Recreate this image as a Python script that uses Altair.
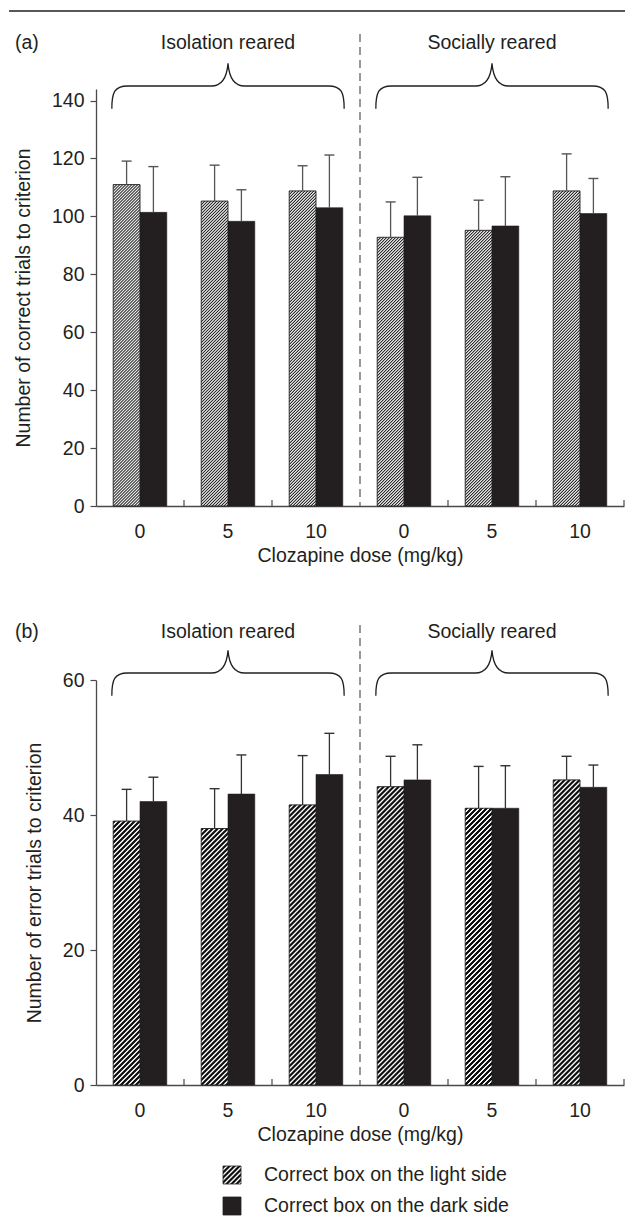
import altair as alt
import pandas as pd

# ---------------- data ----------------
groups = ["Isolation|0", "Isolation|5", "Isolation|10", "Social|0", "Social|5", "Social|10"]
series = ["light", "dark"]
legend_labels = ["Correct box on the light side", "Correct box on the dark side"]
rearing_groups = ["Isolation|5", "Social|5"]
rearing_titles = ["Isolation reared", "Socially reared"]

correct_light = [111.0, 105.3, 108.8, 92.8, 95.2, 108.8]
correct_light_sem = [8.1, 12.4, 8.7, 12.2, 10.4, 12.8]
correct_dark = [101.4, 98.3, 103.0, 100.2, 96.7, 101.0]
correct_dark_sem = [15.8, 10.9, 18.2, 13.3, 17.0, 12.1]

error_light = [39.1, 38.0, 41.5, 44.2, 41.0, 45.2]
error_light_sem = [4.7, 5.9, 7.3, 4.5, 6.2, 3.5]
error_dark = [42.0, 43.1, 46.0, 45.2, 41.0, 44.1]
error_dark_sem = [3.6, 5.8, 6.1, 5.2, 6.3, 3.3]

ticks_a = [0, 20, 40, 60, 80, 100, 120, 140]
ticks_b = [0, 20, 40, 60]

# ---------------- style ----------------
FONT = "Liberation Sans"
FS = 19.5
INK = "#231f20"
AX = "#4a4a4a"
DARK = "#231f20"
W = 528
BAND = W / len(groups)
PAD_OUT = 0.642
BAR_W = BAND / (2 + 2 * PAD_OUT)
BRACE_W = 2.64 * BAND

BRACE = ("M -1 0.195 C -1 0.06 -0.98 0 -0.864 0 L -0.144 0 "
         "C -0.05 0 -0.01 -0.07 0 -0.195 C 0.01 -0.07 0.05 0 0.144 0 "
         "L 0.864 0 C 0.98 0 1 0.06 1 0.195")


def hatch(w, h, period, duty, dark, light, ramp=1.0):
    """Diagonal '/' stripes as a linear gradient over a w x h box (soft 1px edges)."""
    h = max(h, 0.5)
    a = w / h
    s = (a + 1) / (a * a + 1)
    L = w + h
    stops = []
    c = 0.0
    while c < L:
        pts = [(c + ramp / 2, dark), (c + duty * period - ramp / 2, dark),
               (c + duty * period + ramp / 2, light), (c + period - ramp / 2, light)]
        for pc, col in pts:
            if pc <= L:
                stops.append({"offset": round(pc / L, 5), "color": col})
        c += period
    return {"gradient": "linear", "x1": 0, "y1": 0, "x2": a * s, "y2": s, "stops": stops}


def chunks(light, k, period, reps):
    """Split each hatched bar into short slices so the stripe gradient stays crisp."""
    hc = period * reps
    rows = []
    for g, v in zip(groups, light):
        hp = v * k
        i = 0
        while i * hc < hp - 0.01:
            top_px = i * hc
            bot_px = min((i + 1) * hc + 1, hp)
            rows.append({"group": g, "series": "light",
                         "ytop": v - top_px / k, "ybot": max(v - bot_px / k, 0.0),
                         "hkey": f"{bot_px - top_px:.2f}"})
            i += 1
    return pd.DataFrame(rows)


def panel(light, light_sem, dark, dark_sem, ymax, ticks, plot_h, ytitle, letter,
          hstyle, text_y, brace_y, dash_top, err_color, extra=()):
    df = pd.DataFrame({
        "group": groups * 2,
        "series": ["light"] * len(groups) + ["dark"] * len(groups),
        "mean": light + dark,
        "sem": light_sem + dark_sem,
    })
    df["upper"] = df["mean"] + df["sem"]
    k = plot_h / ymax

    period, duty, c_dark, c_light = hstyle
    cdf = chunks(light, k, period, max(1, round(30 / period)))
    conds = [{"test": f"datum.hkey === '{hk}'",
              "value": hatch(BAR_W, float(hk), period, duty, c_dark, c_light)}
             for hk in sorted(cdf["hkey"].unique())]
    chunk_fill = alt.FillValue(value=c_dark, condition=conds)

    xenc = alt.X("group:N",
                 scale=alt.Scale(domain=groups, paddingInner=0, paddingOuter=0),
                 axis=alt.Axis(title="Clozapine dose (mg/kg)",
                               labelExpr="split(datum.label, '|')[1]",
                               labelAngle=0, ticks=False, tickSize=0,
                               labelPadding=16, titlePadding=6))
    xoff = alt.XOffset("series:N",
                       scale=alt.Scale(domain=series, paddingInner=0, paddingOuter=PAD_OUT))
    yenc = alt.Y("mean:Q", scale=alt.Scale(domain=[0, ymax], nice=False, zero=True),
                 axis=alt.Axis(values=ticks, title=ytitle, grid=False, tickSize=6,
                               labelPadding=6, titlePadding=18))

    base = alt.Chart(df)
    dark_bars = base.transform_filter("datum.series === 'dark'").mark_bar(
        fill=DARK, stroke=DARK, strokeWidth=0.6).encode(x=xenc, xOffset=xoff, y=yenc)
    hatch_bars = alt.Chart(cdf).mark_bar(strokeWidth=0).encode(
        x=alt.X("group:N"), xOffset=alt.XOffset("series:N"),
        y=alt.Y("ytop:Q"), y2="ybot:Q", fill=chunk_fill)
    outline = base.transform_filter("datum.series === 'light'").mark_bar(
        filled=False, stroke=INK, strokeWidth=0.9).encode(
        x=alt.X("group:N"), xOffset=alt.XOffset("series:N"), y=alt.Y("mean:Q"))
    err = base.mark_rule(color=err_color, strokeWidth=1.3).encode(
        x=alt.X("group:N"), xOffset=alt.XOffset("series:N"),
        y=alt.Y("upper:Q"), y2="mean:Q")
    caps = base.mark_tick(color=err_color, size=10, thickness=1.4, opacity=1).encode(
        x=alt.X("group:N"), xOffset=alt.XOffset("series:N"), y=alt.Y("upper:Q"))

    inner_ticks = alt.Chart(pd.DataFrame({"group": [groups[1], groups[2], groups[4], groups[5]]})
                            ).mark_rule(color=AX, strokeWidth=1.2).encode(
        x=alt.X("group:N", bandPosition=0), y=alt.value(plot_h), y2=alt.value(plot_h - 6))
    end_tick = alt.Chart(pd.DataFrame({"group": [groups[-1]]})).mark_rule(
        color=AX, strokeWidth=1.2).encode(
        x=alt.X("group:N", bandPosition=1), y=alt.value(plot_h), y2=alt.value(plot_h - 6))

    dash = alt.Chart(pd.DataFrame({"group": [groups[3]]})).mark_rule(
        color="#555555", strokeWidth=1.2, strokeDash=[8, 5]).encode(
        x=alt.X("group:N", bandPosition=0), y=alt.value(dash_top), y2=alt.value(plot_h))

    rdf = pd.DataFrame({"group": rearing_groups, "title": rearing_titles})
    braces = alt.Chart(rdf).mark_point(shape=BRACE, size=BRACE_W * BRACE_W, filled=False,
                                        stroke=INK, strokeWidth=1.3, opacity=1).encode(
        x=alt.X("group:N"), y=alt.value(brace_y))
    titles = alt.Chart(rdf).mark_text(fontSize=FS, font=FONT, color=INK,
                                      baseline="middle").encode(
        x=alt.X("group:N"), y=alt.value(text_y), text="title:N")
    letter_t = alt.Chart(pd.DataFrame({"letter": [letter]})).mark_text(
        fontSize=FS, font=FONT, color=INK, align="left", baseline="middle").encode(
        x=alt.value(-81), y=alt.value(text_y), text="letter:N")

    layers = [dark_bars, hatch_bars, outline, err, caps, inner_ticks, end_tick, dash,
              braces, titles, letter_t] + list(extra)
    return alt.layer(*layers).properties(width=W, height=plot_h)


PLOT_A = 417
PLOT_B = 405

top_rule = alt.Chart(pd.DataFrame({"r": [1]})).mark_rule(color=INK, strokeWidth=1.5).encode(
    x=alt.value(-87), x2=alt.value(W + 1), y=alt.value(-78))

hatch_b = (5, 0.62, "#111111", "#ffffff")
leg_df = pd.DataFrame({"label": legend_labels, "series": series})
leg_y = [495, 526]
leg_layers = []
for i, (s_name, fillv) in enumerate([("light", hatch(18, 18, *hatch_b)), ("dark", DARK)]):
    sub = alt.Chart(leg_df).transform_filter(f"datum.series === '{s_name}'")
    leg_layers.append(sub.mark_square(size=324, fill=fillv, stroke=INK, strokeWidth=0.8,
                                      opacity=1).encode(x=alt.value(136), y=alt.value(leg_y[i])))
    leg_layers.append(sub.mark_text(fontSize=FS, font=FONT, color=INK, align="left",
                                    baseline="middle").encode(
        x=alt.value(168), y=alt.value(leg_y[i]), text="label:N"))

panel_a = panel(correct_light, correct_light_sem, correct_dark, correct_dark_sem,
                144, ticks_a, PLOT_A, "Number of correct trials to criterion", "(a)",
                (3, 0.45, "#2b2b2b", "#e6e6e6"), -46, -3, -55, "#555555",
                extra=[top_rule])
panel_b = panel(error_light, error_light_sem, error_dark, error_dark_sem,
                60, ticks_b, PLOT_B, "Number of error trials to criterion", "(b)",
                hatch_b, -48, -7, -55, "#333333", extra=leg_layers)

chart = alt.vconcat(panel_a, panel_b, spacing=174, bounds="flush").properties(
    padding={"left": 0, "top": 2, "right": 0, "bottom": 0}
).configure_view(strokeWidth=0).configure_axis(
    labelFont=FONT, titleFont=FONT, labelFontSize=FS, titleFontSize=FS,
    titleFontWeight="normal", labelColor=INK, titleColor=INK,
    domainColor=AX, tickColor=AX, domainWidth=1.3, tickWidth=1.2
).configure_text(font=FONT)

chart.save("out.html", embed_options={"renderer": "svg", "actions": False})
